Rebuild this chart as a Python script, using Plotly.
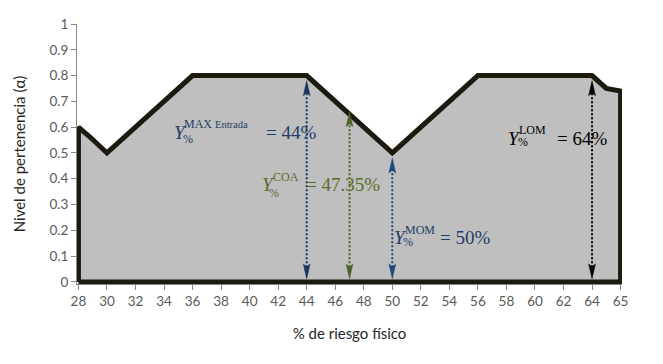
import plotly.graph_objects as go

# ---- data ----
tick_labels = ["28", "30", "32", "34", "36", "38", "40", "42", "44", "46",
               "48", "50", "52", "54", "56", "58", "60", "62", "64", "65"]
curve_x = [28, 28.85, 30, 36, 44, 50, 56, 64, 64.5, 65]        # % de riesgo físico
curve_alpha = [0.6, 0.56, 0.5, 0.8, 0.8, 0.5, 0.8, 0.8, 0.75, 0.74]  # nivel de pertenencia

arrow_names = ["MAX", "COA", "MOM", "LOM"]
arrow_x = [44, 47, 50, 64]
arrow_top = [0.78, 0.66, 0.48, 0.78]
arrow_bottom = [0.012, 0.012, 0.012, 0.012]
arrow_colors = ["#17375E", "#4F6228", "#1F497D", "#000000"]
label_sup = ["MAX <span style='font-size:10.5px'>Entrada</span>", "COA", "MOM", "LOM"]
label_value = ["44%", "47.35%", "50%", "64%"]
label_colors = ["#1F3D66", "#5A6E2A", "#1F3D66", "#000000"]


def pos(v):
    """category position on the (categorical-like) x axis"""
    return (v - 28) / 2 if v <= 64 else 18 + (v - 64)


fig = go.Figure()

# filled area with thick outline (closed polygon down to the baseline)
px_ = [pos(v) for v in curve_x]
poly_x = [px_[0]] + px_ + [px_[-1], px_[0]]
poly_y = [0] + curve_alpha + [0, 0]
fig.add_trace(go.Scatter(x=poly_x, y=poly_y, mode="lines", fill="toself",
                         fillcolor="#BFBFBF",
                         line=dict(color="#1D1B10", width=5),
                         hoverinfo="skip", showlegend=False))

# dotted double arrows
hw = 0.12   # half width of arrowheads (x units)
hh = 0.058  # height of arrowheads (y units)
for xv, top, bot, col in zip(arrow_x, arrow_top, arrow_bottom, arrow_colors):
    p = pos(xv)
    fig.add_shape(type="line", x0=p, x1=p, y0=bot + hh * 0.5, y1=top - hh * 0.5,
                  xref="x", yref="y", line=dict(color=col, width=2, dash="2px,2px"))
    # top head
    fig.add_trace(go.Scatter(x=[p - hw, p, p + hw, p, p - hw],
                             y=[top - hh, top, top - hh, top - hh * 0.8, top - hh],
                             mode="lines", fill="toself", fillcolor=col,
                             line=dict(color=col, width=0.5),
                             hoverinfo="skip", showlegend=False))
    # bottom head
    fig.add_trace(go.Scatter(x=[p - hw, p, p + hw, p, p - hw],
                             y=[bot + hh, bot, bot + hh, bot + hh * 0.8, bot + hh],
                             mode="lines", fill="toself", fillcolor=col,
                             line=dict(color=col, width=0.5),
                             hoverinfo="skip", showlegend=False))

# equation labels: Y, superscript, subscript, "= value"
label_pos = [
    # (Y x, Y y, sup x, sup y, sub x, sub y, eq x)
    (3.32, 0.581, 3.67, 0.612, 3.63, 0.554, 6.54),
    (6.40, 0.376, 6.79, 0.407, 6.65, 0.345, 7.94),
    (11.03, 0.171, 11.41, 0.202, 11.34, 0.155, 12.64),
    (15.02, 0.558, 15.41, 0.589, 15.37, 0.543, 16.74),
]
serif = "Liberation Serif"
for (yx, yy, sx, sy, bx, by, ex), sup, val, col in zip(label_pos, label_sup, label_value, label_colors):
    common = dict(xref="x", yref="y", showarrow=False, xanchor="left", yanchor="middle", borderpad=0)
    fig.add_annotation(x=yx, y=yy, text="<i>Y</i>", font=dict(family=serif, size=19, color=col), **common)
    fig.add_annotation(x=sx, y=sy, text=sup, font=dict(family=serif, size=12, color=col), **common)
    fig.add_annotation(x=bx, y=by, text="%", font=dict(family=serif, size=12, color=col), **common)
    fig.add_annotation(x=ex, y=yy, text="= " + val, font=dict(family=serif, size=19, color=col), **common)

axis_font = dict(family="Lato", size=13.5, color="#595959")
fig.update_xaxes(range=[-0.05, 19.05], tickmode="array", automargin=False,
                 tickvals=list(range(len(tick_labels))), ticktext=tick_labels,
                 showgrid=False, zeroline=False, showline=True, linecolor="#868686",
                 linewidth=1, ticks="outside", ticklen=5, tickcolor="#868686",
                 tickfont=axis_font,
                 title=dict(text="% de riesgo físico", standoff=20,
                            font=dict(family="Lato", size=15, color="#262626")))
fig.update_yaxes(range=[-0.008, 1], tickmode="linear", tick0=0, dtick=0.1, automargin=False,
                 showgrid=False, zeroline=False, showline=True, linecolor="#868686",
                 linewidth=1, ticks="outside", ticklen=5, tickcolor="#868686",
                 tickfont=axis_font,
                 title=dict(text="Nivel de pertenencia (α)", standoff=20,
                            font=dict(family="Lato", size=15, color="#262626")))

fig.update_layout(width=663, height=364,
                  margin=dict(l=77, r=41, t=24, b=80),
                  paper_bgcolor="white", plot_bgcolor="white",
                  showlegend=False)

fig.write_html("out.html", config={"displayModeBar": False},
               post_script="document.body.style.margin='0';document.body.style.overflow='hidden';")
